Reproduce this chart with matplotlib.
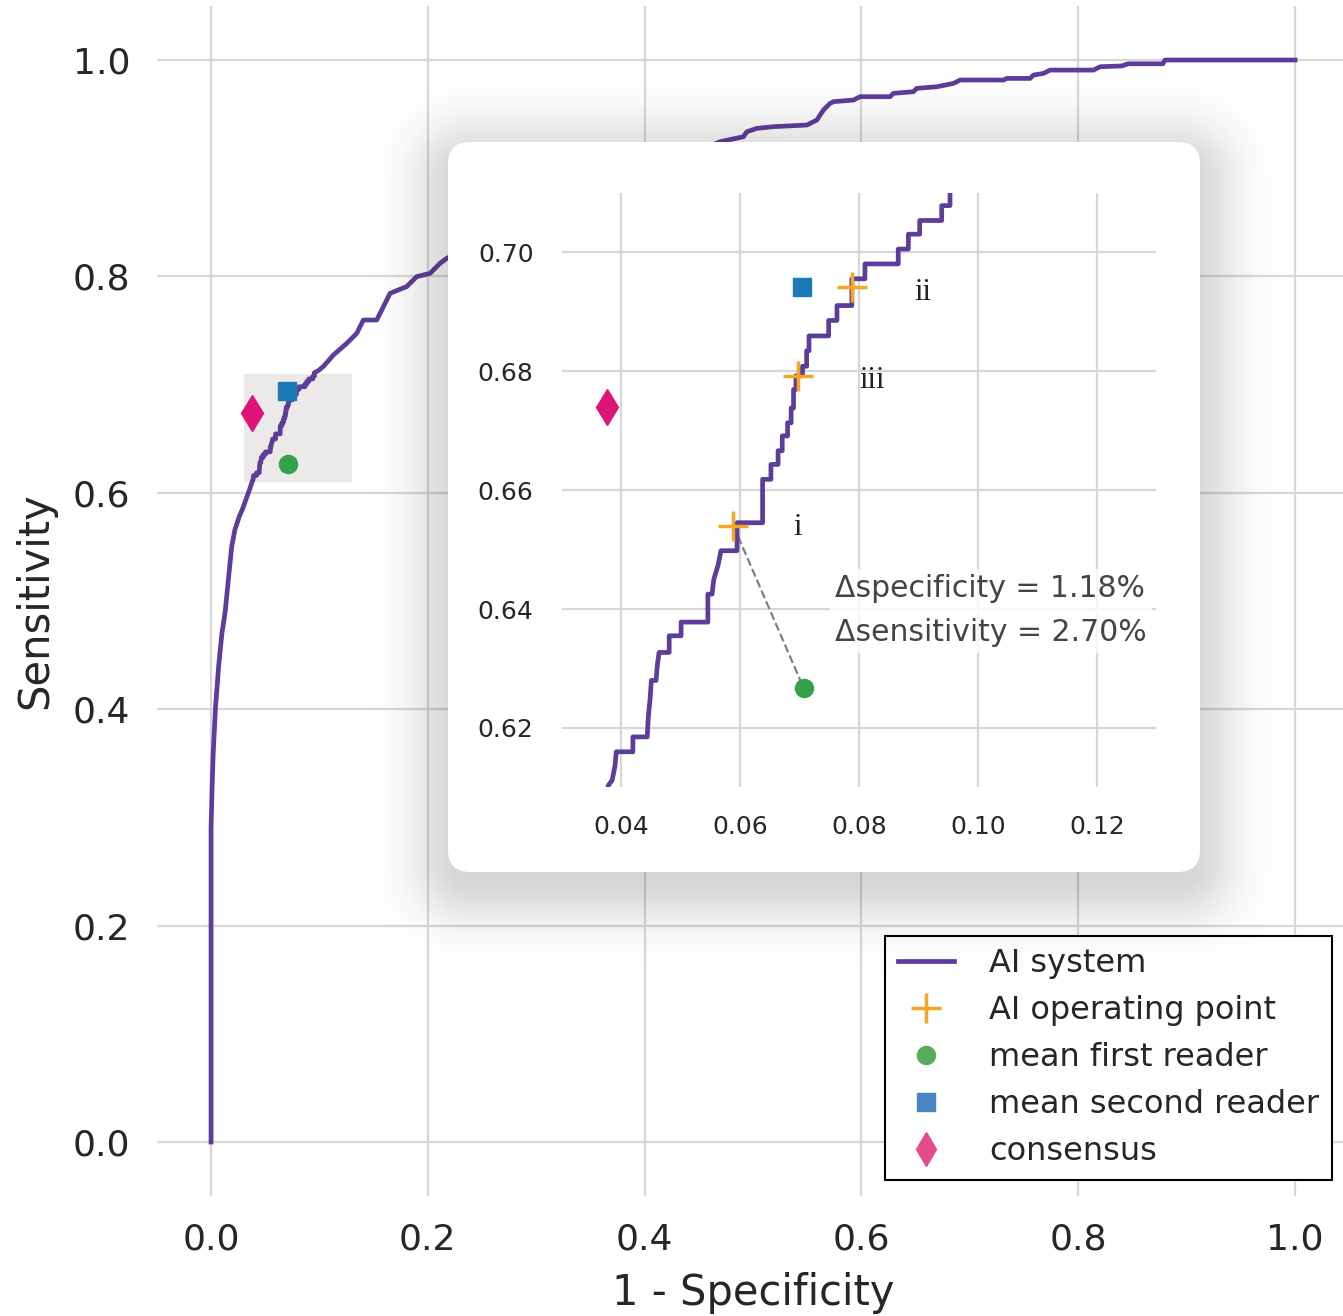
import numpy as np
import matplotlib
matplotlib.use("Agg")
import matplotlib.pyplot as plt
from matplotlib.lines import Line2D
from matplotlib.patches import Rectangle, FancyBboxPatch


# ROC curve of the AI system (1 - specificity, sensitivity)
roc_fpr = [
    0.0, 0.0, 0.001, 0.002, 0.004, 0.007, 0.010, 0.013, 0.016, 0.019,
    0.022, 0.026, 0.029, 0.033, 0.0355,
    0.0379, 0.0385, 0.0390, 0.0392, 0.0420, 0.0420, 0.0444, 0.0446, 0.0449,
    0.0451, 0.0459, 0.0461, 0.0464, 0.0481, 0.0481, 0.0501, 0.0501, 0.0546,
    0.0546, 0.0553, 0.0556, 0.0563, 0.0568, 0.0595, 0.0595, 0.0638, 0.0638,
    0.0652, 0.0652, 0.0664, 0.0664, 0.0671, 0.0671, 0.0680, 0.0680, 0.0686,
    0.0686, 0.0690, 0.0690, 0.0694, 0.0694, 0.0705, 0.0705, 0.0712, 0.0712,
    0.0716, 0.0716, 0.0749, 0.0749, 0.0763, 0.0763, 0.0788, 0.0788, 0.0810,
    0.0810, 0.0866, 0.0866, 0.0883, 0.0883, 0.0902, 0.0902, 0.0939, 0.0939,
    0.0953, 0.0953,
    0.0990, 0.1034, 0.1129, 0.1252, 0.1344, 0.1405, 0.1528, 0.1580, 0.1651,
    0.1805, 0.1897, 0.2020, 0.2112, 0.2174, 0.2500, 0.3000, 0.3500, 0.4000,
    0.4400, 0.4696, 0.4911, 0.4942, 0.5034, 0.5188, 0.5495, 0.5588, 0.5649,
    0.5710, 0.5741, 0.5926, 0.5987, 0.6264, 0.6294, 0.6479, 0.6510, 0.6695,
    0.6848, 0.6910, 0.7310, 0.7340, 0.7555, 0.7586, 0.7678, 0.7740, 0.8140,
    0.8201, 0.8400, 0.8460, 0.8780, 0.8800, 1.0,
]
roc_tpr = [
    0.0, 0.29, 0.33, 0.36, 0.40, 0.44, 0.47, 0.49, 0.52, 0.55,
    0.566, 0.578, 0.585, 0.596, 0.603,
    0.6104, 0.6112, 0.6137, 0.6160, 0.6160, 0.6185, 0.6185, 0.6220, 0.6250,
    0.6280, 0.6280, 0.6305, 0.6327, 0.6327, 0.6355, 0.6355, 0.6378, 0.6378,
    0.6425, 0.6425, 0.6450, 0.6473, 0.6498, 0.6498, 0.6545, 0.6545, 0.6618,
    0.6618, 0.6643, 0.6643, 0.6666, 0.6666, 0.6691, 0.6691, 0.6713, 0.6713,
    0.6738, 0.6738, 0.6769, 0.6769, 0.6792, 0.6792, 0.6808, 0.6808, 0.6834,
    0.6834, 0.6859, 0.6859, 0.6885, 0.6885, 0.6910, 0.6910, 0.6955, 0.6955,
    0.6980, 0.6980, 0.7005, 0.7005, 0.7030, 0.7030, 0.7053, 0.7053, 0.7078,
    0.7078, 0.7110,
    0.7130, 0.7166, 0.7274, 0.7382, 0.7474, 0.7597, 0.7597, 0.7700, 0.7844,
    0.7906, 0.7998, 0.8028, 0.8121, 0.8167, 0.8350, 0.8580, 0.8780, 0.8970,
    0.9120, 0.9245, 0.9291, 0.9337, 0.9368, 0.9384, 0.9399, 0.9445, 0.9538,
    0.9599, 0.9615, 0.9630, 0.9661, 0.9661, 0.9692, 0.9707, 0.9738, 0.9753,
    0.9784, 0.9815, 0.9815, 0.9830, 0.9830, 0.9861, 0.9876, 0.9907, 0.9907,
    0.9938, 0.9945, 0.9965, 0.9965, 1.0, 1.0,
]

# AI operating points i, ii, iii
op_fpr = [0.0589, 0.0789, 0.0697]
op_tpr = [0.6540, 0.6941, 0.6792]
op_labels = ["i", "ii", "iii"]
op_label_fpr = [0.0697, 0.0907, 0.0822]
op_label_tpr = [0.6537, 0.6932, 0.6784]

# readers
first_reader = (0.0707, 0.6267)
second_reader = (0.0704, 0.6941)
consensus = (0.0377, 0.6740)

# zoomed region
zoom_xlim = (0.03, 0.13)
zoom_ylim = (0.61, 0.71)

main_ticks = [0.0, 0.2, 0.4, 0.6, 0.8, 1.0]
inset_xticks = [0.04, 0.06, 0.08, 0.10, 0.12]
inset_yticks = [0.62, 0.64, 0.66, 0.68, 0.70]

delta_text = "\u0394specificity = 1.18%\n\u0394sensitivity = 2.70%"

PURPLE = "#5e3c99"
ORANGE = "#f5a623"
GREEN = "#34a249"
BLUE = "#1b79b5"
PINK = "#dd1477"
TEXT = "#262626"
GRID = "#d7d7d7"


def style_axes(ax, size, pad):
    for s in ax.spines.values():
        s.set_visible(False)
    ax.grid(True, color=GRID, lw=1.6)
    ax.set_axisbelow(True)
    ax.tick_params(length=0, labelsize=size, colors=TEXT, pad=pad)


def draw_points(ax, with_ops):
    ax.plot(roc_fpr, roc_tpr, color=PURPLE, lw=3.4, zorder=3)
    if with_ops:
        ax.plot([op_fpr[0], first_reader[0]], [op_tpr[0], first_reader[1]],
                ls="--", color="#808080", lw=1.6, zorder=2)
        ax.plot(op_fpr, op_tpr, ls="none", marker="+", ms=22, mew=2.5,
                color=ORANGE, zorder=5)
    ax.plot(*first_reader, marker="o", ms=13, color=GREEN, ls="none", zorder=4)
    ax.plot(*second_reader, marker="s", ms=13.5, color=BLUE, ls="none", zorder=4)
    ax.plot(*consensus, marker="d", ms=18, color=PINK, ls="none", zorder=4)


def shadow_image(W, H, box, radius, dy, sigma, alpha):
    x0, y0, x1, y1 = box
    yy, xx = np.mgrid[0:H, 0:W].astype(float)
    cx, cy = (x0 + x1) / 2, (y0 + y1) / 2 + dy
    hx, hy = (x1 - x0) / 2, (y1 - y0) / 2
    qx = np.abs(xx - cx) - (hx - radius)
    qy = np.abs(yy - cy) - (hy - radius)
    d = (np.hypot(np.maximum(qx, 0), np.maximum(qy, 0))
         + np.minimum(np.maximum(qx, qy), 0) - radius)
    a = alpha * np.exp(-np.maximum(d + 12, 0) ** 2 / (2 * sigma ** 2))
    img = np.zeros((H, W, 4))
    img[..., :3] = 0.15
    img[..., 3] = a
    return img


def main():
    W, H = 1343, 1316
    fig = plt.figure(figsize=(W / 100, H / 100), dpi=100)

    # main ROC axes
    ax = fig.add_axes([0.1168, 0.0911, 0.8879, 0.9044])
    style_axes(ax, 26, 19)
    ax.set_xlim(-0.05, 1.05)
    ax.set_ylim(-0.05, 1.05)
    ax.set_xticks(main_ticks)
    ax.set_yticks(main_ticks)
    ax.set_xticklabels([f"{t:.1f}" for t in main_ticks])
    ax.set_yticklabels([f"{t:.1f}" for t in main_ticks])
    ax.set_xlabel("1 - Specificity", fontsize=30, color=TEXT, labelpad=11)
    ax.set_ylabel("Sensitivity", fontsize=30, color=TEXT, labelpad=12)
    ax.add_patch(Rectangle((zoom_xlim[0], zoom_ylim[0]),
                           zoom_xlim[1] - zoom_xlim[0], zoom_ylim[1] - zoom_ylim[0],
                           facecolor="#ebeae8", edgecolor="none", zorder=1))
    draw_points(ax, with_ops=False)

    handles = [
        Line2D([], [], color=PURPLE, lw=3.4),
        Line2D([], [], ls="none", marker="+", ms=22, mew=2.5, color=ORANGE),
        Line2D([], [], ls="none", marker="o", ms=13, color="#5aab5a"),
        Line2D([], [], ls="none", marker="s", ms=13.5, color="#4a87c2"),
        Line2D([], [], ls="none", marker="d", ms=17, color="#e34c8c"),
    ]
    labels = ["AI system", "AI operating point", "mean first reader",
              "mean second reader", "consensus"]
    leg = ax.legend(handles, labels, loc="lower right",
                    bbox_to_anchor=(0.9918, 0.1033), bbox_transform=fig.transFigure,
                    fontsize=23, frameon=True, fancybox=False, framealpha=1,
                    edgecolor="black", borderaxespad=0, borderpad=0.4,
                    labelspacing=0.5, handlelength=1.75, handletextpad=1.1)
    leg.get_frame().set_linewidth(1.5)
    for t in leg.get_texts():
        t.set_color(TEXT)

    # shadowed card behind the inset
    box = (448, 142, 1200, 872)
    bg = fig.add_axes([0, 0, 1, 1], zorder=1)
    bg.set_xlim(0, W)
    bg.set_ylim(H, 0)
    bg.axis("off")
    bg.imshow(shadow_image(W, H, box, 22, 14, 34, 0.19),
              extent=(0, W, H, 0), aspect="auto", interpolation="bilinear")
    bg.add_patch(FancyBboxPatch((box[0], box[1]), box[2] - box[0], box[3] - box[1],
                                boxstyle="round,pad=0,rounding_size=22",
                                facecolor="white", edgecolor="none"))
    bg.set_xlim(0, W)
    bg.set_ylim(H, 0)

    # zoomed inset
    axin = fig.add_axes([0.4181, 0.4016, 0.4430, 0.4521], zorder=2)
    axin.set_facecolor("none")
    style_axes(axin, 18, 20)
    axin.set_xlim(*zoom_xlim)
    axin.set_ylim(*zoom_ylim)
    axin.set_xticks(inset_xticks)
    axin.set_yticks(inset_yticks)
    axin.set_xticklabels([f"{t:.2f}" for t in inset_xticks])
    axin.set_yticklabels([f"{t:.2f}" for t in inset_yticks])
    draw_points(axin, with_ops=True)
    for lab, x, y in zip(op_labels, op_label_fpr, op_label_tpr):
        axin.text(x, y, lab, fontsize=22, family="Liberation Serif",
                  color="#222222", ha="center", va="center", zorder=6)
    axin.text(0.0760, 0.6397, delta_text, fontsize=21.5, color="#444444",
              ha="left", va="center", linespacing=1.66, zorder=6,
              bbox=dict(facecolor="white", edgecolor="none", alpha=0.8, pad=4))

    fig.savefig("out.png", dpi=100)
    plt.close(fig)
    print("Saved: out.png")


if __name__ == "__main__":
    main()
